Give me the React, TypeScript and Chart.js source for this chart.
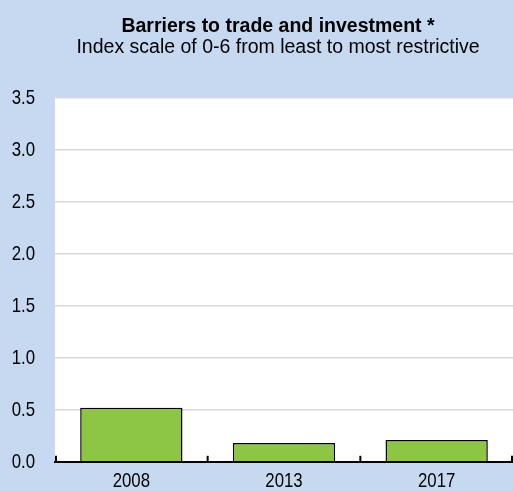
import React, { useEffect, useRef } from "react";
import { Chart, registerables } from "chart.js";

Chart.register(...registerables);

const categories = ["2008", "2013", "2017"];
const values = [0.52, 0.18, 0.21];
const titleText = "Barriers to trade and investment *";
const subtitleText = "Index scale of 0-6 from least to most restrictive";

const FONT = "'Liberation Sans', Arial, sans-serif";
const BG = "#c6d9f0";
const NARROW = 0.8;

function condensedText(ctx: any, text: string, x: number, y: number, align: string, font: string) {
  ctx.save();
  ctx.font = font;
  ctx.textAlign = align;
  ctx.textBaseline = "middle";
  ctx.translate(x, y);
  ctx.scale(NARROW, 1);
  ctx.fillText(text, 0, 0);
  ctx.restore();
}

const bgPlugin = {
  id: "bgPlugin",
  beforeDraw(chart: any) {
    const { ctx, chartArea, width, height } = chart;
    ctx.save();
    ctx.fillStyle = BG;
    ctx.fillRect(0, 0, width, height);
    ctx.fillStyle = "#ffffff";
    ctx.fillRect(chartArea.left, chartArea.top, chartArea.right - chartArea.left, chartArea.bottom - chartArea.top);
    ctx.restore();
  },
  afterDraw(chart: any) {
    const { ctx, chartArea } = chart;
    const x = chart.scales.x;
    const y = chart.scales.y;
    ctx.save();
    // category separator ticks pointing up
    ctx.strokeStyle = "#000";
    ctx.lineWidth = 2;
    const n = categories.length;
    const step = x.getPixelForValue(1) - x.getPixelForValue(0);
    for (let i = 0; i <= n; i++) {
      let px = x.getPixelForValue(0) - step / 2 + i * step;
      px = Math.min(Math.max(px, chartArea.left + 1), chartArea.right - 1);
      ctx.beginPath();
      ctx.moveTo(px, chartArea.bottom);
      ctx.lineTo(px, chartArea.bottom - 6);
      ctx.stroke();
    }
    ctx.fillStyle = "#000";
    // y tick labels
    y.ticks.forEach((t: any, i: number) => {
      condensedText(ctx, Number(t.value).toFixed(1), chartArea.left - 20, y.getPixelForTick(i), "right", `21px ${FONT}`);
    });
    // x tick labels
    categories.forEach((c, i) => {
      condensedText(ctx, c, x.getPixelForValue(i), chartArea.bottom + 19, "center", `21px ${FONT}`);
    });
    // titles
    ctx.textAlign = "center";
    ctx.textBaseline = "alphabetic";
    ctx.font = `bold 19.5px ${FONT}`;
    ctx.fillText(titleText, 278, 32);
    ctx.font = `19.5px ${FONT}`;
    ctx.fillText(subtitleText, 278, 53);
    ctx.restore();
  },
};

export default function App() {
  const ref = useRef<HTMLCanvasElement>(null);
  useEffect(() => {
    document.body.style.margin = "0";
    const chart = new Chart(ref.current!, {
      type: "bar",
      data: {
        labels: categories,
        datasets: [
          {
            data: values,
            backgroundColor: "#8dc644",
            borderColor: "#000000",
            borderWidth: 1.5,
            barPercentage: 1,
            categoryPercentage: 0.67,
          },
        ],
      },
      options: {
        animation: false,
        responsive: false,
        layout: { padding: { top: 98, right: 0, left: 0, bottom: 0 } },
        plugins: { legend: { display: false }, tooltip: { enabled: false }, title: { display: false } },
        scales: {
          x: {
            grid: { display: false, drawTicks: false },
            border: { display: true, color: "#000", width: 2 },
            ticks: { color: "rgba(0,0,0,0)", font: { family: FONT, size: 17 }, padding: 9 },
            afterFit(scale: any) {
              scale.height = 28.5;
            },
          },
          y: {
            min: 0,
            max: 3.5,
            ticks: {
              stepSize: 0.5,
              color: "rgba(0,0,0,0)",
              font: { family: FONT, size: 17 },
              padding: 19,
              callback: (v: any) => Number(v).toFixed(1),
            },
            grid: { color: "#d9d9d9", lineWidth: 1.5, drawTicks: false },
            border: { display: false },
            afterFit(scale: any) {
              scale.width = 55;
            },
          },
        },
      },
      plugins: [bgPlugin],
    });
    return () => chart.destroy();
  }, []);
  return (
    <div style={{ position: "absolute", left: 0, top: 0, width: 513, height: 491 }}>
      <canvas ref={ref} width={513} height={491} style={{ width: 513, height: 491 }} />
    </div>
  );
}
